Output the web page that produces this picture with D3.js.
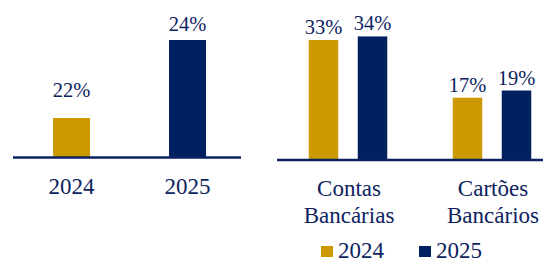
<!DOCTYPE html>
<html>
<head>
<meta charset="utf-8">
<script src="https://cdn.jsdelivr.net/npm/d3@7"></script>
<style>
  html, body { margin: 0; padding: 0; background: #fff; }
  svg { display: block; }
</style>
</head>
<body>
<svg id="chart" width="543" height="260"></svg>
<script>
// ---- data ----
const years = ["2024", "2025"];
const totalValues = [22, 24];
const categories = ["Contas Bancárias", "Cartões Bancários"];
const categoryLines = [["Contas", "Bancárias"], ["Cartões", "Bancários"]];
const values2024 = [33, 17];
const values2025 = [34, 19];
const colors = ["#CC9900", "#002060"];

const FONT = '"Liberation Serif", "Times New Roman", "DejaVu Serif"';
const TEXT_COLOR = "#0C2360";
const svg = d3.select("#chart").style("font-family", FONT);
const lineColor = "#0A2262";

function styleText(sel, size) {
  return sel.style("font-family", FONT).attr("fill", TEXT_COLOR).attr("font-size", size);
}

// ---- left panel ----
const xL = d3.scaleBand().domain(years).range([13.6, 245.5]).paddingInner(0.681).paddingOuter(0.34);
const yL = d3.scaleLinear().domain([21, 24]).range([157, 40]);
const yLabelL = d3.scaleLinear().domain([21, 24]).range([130, 31]);
const left = svg.append("g");
left.selectAll("rect").data(years).join("rect")
  .attr("x", d => xL(d))
  .attr("width", xL.bandwidth())
  .attr("y", (d, i) => yL(totalValues[i]))
  .attr("height", (d, i) => yL(21) - yL(totalValues[i]))
  .attr("fill", (d, i) => colors[i]);
styleText(left.selectAll("text.val").data(years).join("text"), 20.5)
  .attr("class", "val")
  .attr("x", d => xL(d) + xL.bandwidth() / 2)
  .attr("y", (d, i) => yLabelL(totalValues[i]))
  .attr("text-anchor", "middle")
  .text((d, i) => totalValues[i] + "%");
left.append("line")
  .attr("x1", 13).attr("x2", 241)
  .attr("y1", 157.5).attr("y2", 157.5)
  .attr("stroke", lineColor).attr("stroke-width", 2.6);
styleText(left.selectAll("text.cat").data(years).join("text"), 23)
  .attr("class", "cat")
  .attr("x", d => xL(d) + xL.bandwidth() / 2)
  .attr("y", 194)
  .attr("text-anchor", "middle")
  .text(d => d);

// ---- right panel ----
const x0 = d3.scaleBand().domain(categories).range([276, 564]).paddingInner(0);
const x1 = d3.scaleBand().domain(years).range([0, x0.bandwidth()]).paddingInner(0.398).paddingOuter(0.668);
const yR = d3.scaleLinear().domain([0, 40]).range([159, 14.8]);
const right = svg.append("g");
const series = [values2024, values2025];
const bars = [];
categories.forEach((c, ci) => years.forEach((y, yi) => bars.push({ c, y, yi, v: series[yi][ci] })));
right.selectAll("rect").data(bars).join("rect")
  .attr("x", d => x0(d.c) + x1(d.y))
  .attr("width", x1.bandwidth())
  .attr("y", d => yR(d.v))
  .attr("height", d => yR(0) - yR(d.v))
  .attr("fill", d => colors[d.yi]);
styleText(right.selectAll("text.val").data(bars).join("text"), 20.5)
  .attr("class", "val")
  .attr("x", d => x0(d.c) + x1(d.y) + x1.bandwidth() / 2)
  .attr("y", d => yR(d.v) - 6)
  .attr("text-anchor", "middle")
  .text(d => d.v + "%");
right.append("line")
  .attr("x1", 277).attr("x2", 543)
  .attr("y1", 160).attr("y2", 160)
  .attr("stroke", lineColor).attr("stroke-width", 2.6);
categories.forEach((c, ci) => {
  const cx = x0(c) + x0.bandwidth() / 2 + 1;
  const t = styleText(right.append("text"), 23)
    .attr("x", cx)
    .attr("y", 196)
    .attr("text-anchor", "middle");
  categoryLines[ci].forEach((ln, li) => {
    t.append("tspan")
      .attr("x", cx)
      .attr("dy", li === 0 ? 0 : 27)
      .text(ln);
  });
});

// ---- legend ----
const legend = svg.append("g").attr("transform", "translate(321,246)");
const lg = legend.selectAll("g").data(years).join("g")
  .attr("transform", (d, i) => `translate(${i * 98},0)`);
lg.append("rect").attr("width", 12).attr("height", 11).attr("fill", (d, i) => colors[i]);
styleText(lg.append("text"), 23).attr("x", 17).attr("y", 12).text(d => d);
</script>
</body>
</html>
